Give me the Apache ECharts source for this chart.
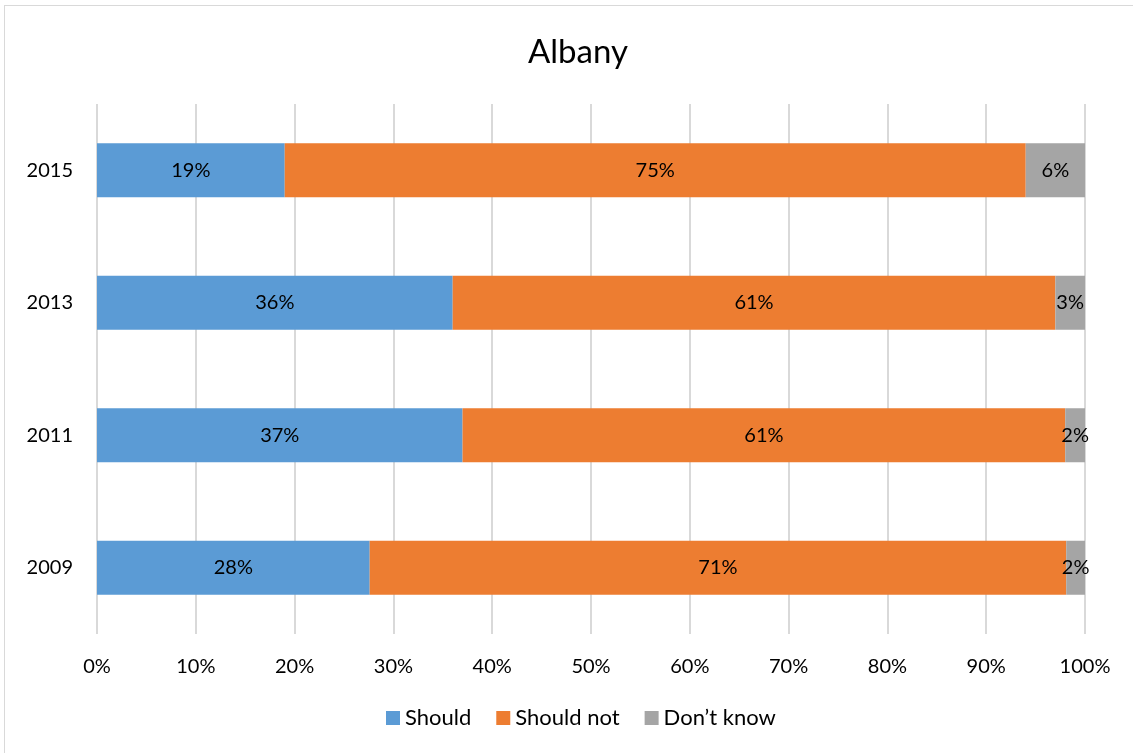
<!DOCTYPE html>
<html>
<head>
<meta charset="utf-8">
<script src="https://cdn.jsdelivr.net/npm/echarts@6/dist/echarts.min.js"></script>
<style>
html,body{margin:0;padding:0;background:#fff;}
#frame{position:absolute;left:4px;top:5px;width:1140px;height:760px;border:1px solid #d9d9d9;box-sizing:border-box;}
#chart{width:1133px;height:753px;position:absolute;left:0;top:0;}
</style>
</head>
<body>
<div id="frame"></div>
<div id="chart"></div>
<script>
const categories = ['2009', '2011', '2013', '2015'];
const shouldVals = [27.6, 37, 36, 19];
const shouldNotVals = [70.5, 61, 61, 75];
const dontKnowVals = [1.9, 2, 3, 6];
const seriesNames = ['Should', 'Should not', 'Don\u2019t know'];
const xTicks = [0, 10, 20, 30, 40, 50, 60, 70, 80, 90, 100];

const FONT = 'Lato, "Open Sans", sans-serif';
const colors = ['#5B9BD5', '#ED7D31', '#A5A5A5'];
const chart = echarts.init(document.getElementById('chart'));

function mk(name, data, color) {
  return {
    name: name,
    type: 'bar',
    stack: 'total',
    data: data,
    barWidth: 54,
    itemStyle: { color: color },
    label: {
      show: true,
      position: 'inside',
      color: '#000',
      fontSize: 20,
      fontFamily: FONT,
      formatter: p => Math.round(p.value) + '%'
    },
    emphasis: { disabled: true }
  };
}

chart.setOption({
  animation: false,
  title: {
    text: 'Albany',
    left: 523,
    top: 31,
    textStyle: { fontFamily: FONT, fontSize: 33, fontWeight: 'normal', color: '#000' }
  },
  legend: {
    bottom: 19,
    left: 381,
    itemWidth: 14,
    itemHeight: 14,
    itemGap: 25,
    icon: 'rect',
    textStyle: { fontFamily: FONT, fontSize: 22, color: '#000' },
    data: seriesNames
  },
  grid: { left: 97, right: 48, top: 104, bottom: 119, containLabel: false },
  xAxis: {
    type: 'value',
    min: 0,
    max: 100,
    interval: 10,
    axisLine: { show: false },
    axisTick: { show: false },
    splitLine: { show: true, lineStyle: { color: '#d9d9d9', width: 2 } },
    axisLabel: {
      margin: 23,
      fontFamily: FONT,
      fontSize: 20,
      color: '#000',
      formatter: v => xTicks.indexOf(v) >= 0 ? v + '%' : ''
    }
  },
  yAxis: {
    type: 'category',
    data: categories,
    axisLine: { show: false },
    axisTick: { show: false },
    axisLabel: { margin: 24, fontFamily: FONT, fontSize: 20, color: '#000' }
  },
  series: [
    mk(seriesNames[0], shouldVals, colors[0]),
    mk(seriesNames[1], shouldNotVals, colors[1]),
    mk(seriesNames[2], dontKnowVals, colors[2])
  ]
});
</script>
</body>
</html>
